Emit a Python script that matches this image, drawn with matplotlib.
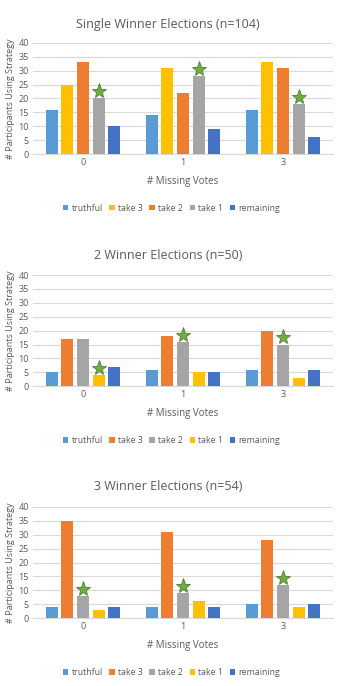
import matplotlib.pyplot as plt
import numpy as np

# Categories on the x axis
groups = ["0", "1", "3"]

titles = ["Single Winner Elections (n=104)",
          "2 Winner Elections (n=50)",
          "3 Winner Elections (n=54)"]

# Panel 1: single winner
series_1 = ["truthful", "take 3", "take 2", "take 1", "remaining"]
values_1 = [[16, 14, 16],
            [25, 31, 33],
            [33, 22, 31],
            [20, 28, 18],
            [10, 9, 6]]
stars_1 = [3, 3, 3]   # index of the starred series in each group

# Panel 2: two winners
series_2 = ["truthful", "take 3", "take 2", "take 1", "remaining"]
values_2 = [[5, 6, 6],
            [17, 18, 20],
            [17, 16, 15],
            [4, 5, 3],
            [7, 5, 6]]
stars_2 = [3, 2, 2]

# Panel 3: three winners
series_3 = ["truthful", "take 3", "take 2", "take 1", "remaining"]
values_3 = [[4, 4, 5],
            [35, 31, 28],
            [8, 9, 12],
            [3, 6, 4],
            [4, 4, 5]]
stars_3 = [2, 2, 2]

LBLUE = "#5B9BD5"
YELLOW = "#FFC000"
ORANGE = "#ED7D31"
GRAY = "#A5A5A5"
BLUE = "#4472C4"
colors_1 = [LBLUE, YELLOW, ORANGE, GRAY, BLUE]
colors_2 = [LBLUE, ORANGE, GRAY, YELLOW, BLUE]
colors_3 = [LBLUE, ORANGE, GRAY, YELLOW, BLUE]

TXT = "#595959"
plt.rcParams['font.family'] = ['Open Sans', 'DejaVu Sans']

fig = plt.figure(figsize=(3.43, 6.86), dpi=100)

panels = [(titles[0], series_1, values_1, stars_1, colors_1, 0.7755, 0.965),
          (titles[1], series_2, values_2, stars_2, colors_2, 0.437, 0.628),
          (titles[2], series_3, values_3, stars_3, colors_3, 0.099, 0.291)]

step = 0.156
width = 0.12
x = np.arange(len(groups))

for title, series, values, stars, colors, bottom, ytitle in panels:
    ax = fig.add_axes([0.096, bottom, 0.875, 0.162])
    n = len(series)
    for i in range(n):
        offs = (i - (n - 1) / 2) * step
        ax.bar(x + offs, values[i], width, color=colors[i], label=series[i],
               zorder=3)
    # green stars over the marked bar in each group
    for g in range(len(groups)):
        s = stars[g]
        offs = (s - (n - 1) / 2) * step
        ax.plot(x[g] + offs, values[s][g] + 2.6, marker="*", markersize=11,
                color="#70AD47", markeredgecolor="#507E32",
                markeredgewidth=0.6, zorder=4)
    ax.set_ylim(0, 40)
    ax.set_yticks(range(0, 41, 5))
    ax.set_xlim(-0.5, len(groups) - 0.5)
    ax.set_xticks(x)
    ax.set_xticklabels(groups)
    ax.grid(axis="y", color="#D9D9D9", linewidth=0.8, zorder=0)
    for sp in ["top", "right", "left"]:
        ax.spines[sp].set_visible(False)
    ax.spines["bottom"].set_color("#D9D9D9")
    ax.tick_params(axis="both", length=0, labelsize=6.5, colors=TXT, pad=3)
    ax.set_xlabel("# Missing Votes", fontsize=7, color=TXT, labelpad=6)
    ax.set_ylabel("# Participants Using Strategy", fontsize=6.5, color=TXT,
                  labelpad=2)
    fig.text(0.49, ytitle, title, fontsize=9, color=TXT,
             ha="center", va="center")
    ax.legend(loc="upper center", bbox_to_anchor=(0.5, bottom - 0.061),
              bbox_transform=fig.transFigure, ncol=5,
              frameon=False, fontsize=6.3, handlelength=0.6,
              handleheight=0.6, handletextpad=0.4, columnspacing=0.75,
              labelcolor=TXT)

plt.savefig("out.png", dpi=100)
